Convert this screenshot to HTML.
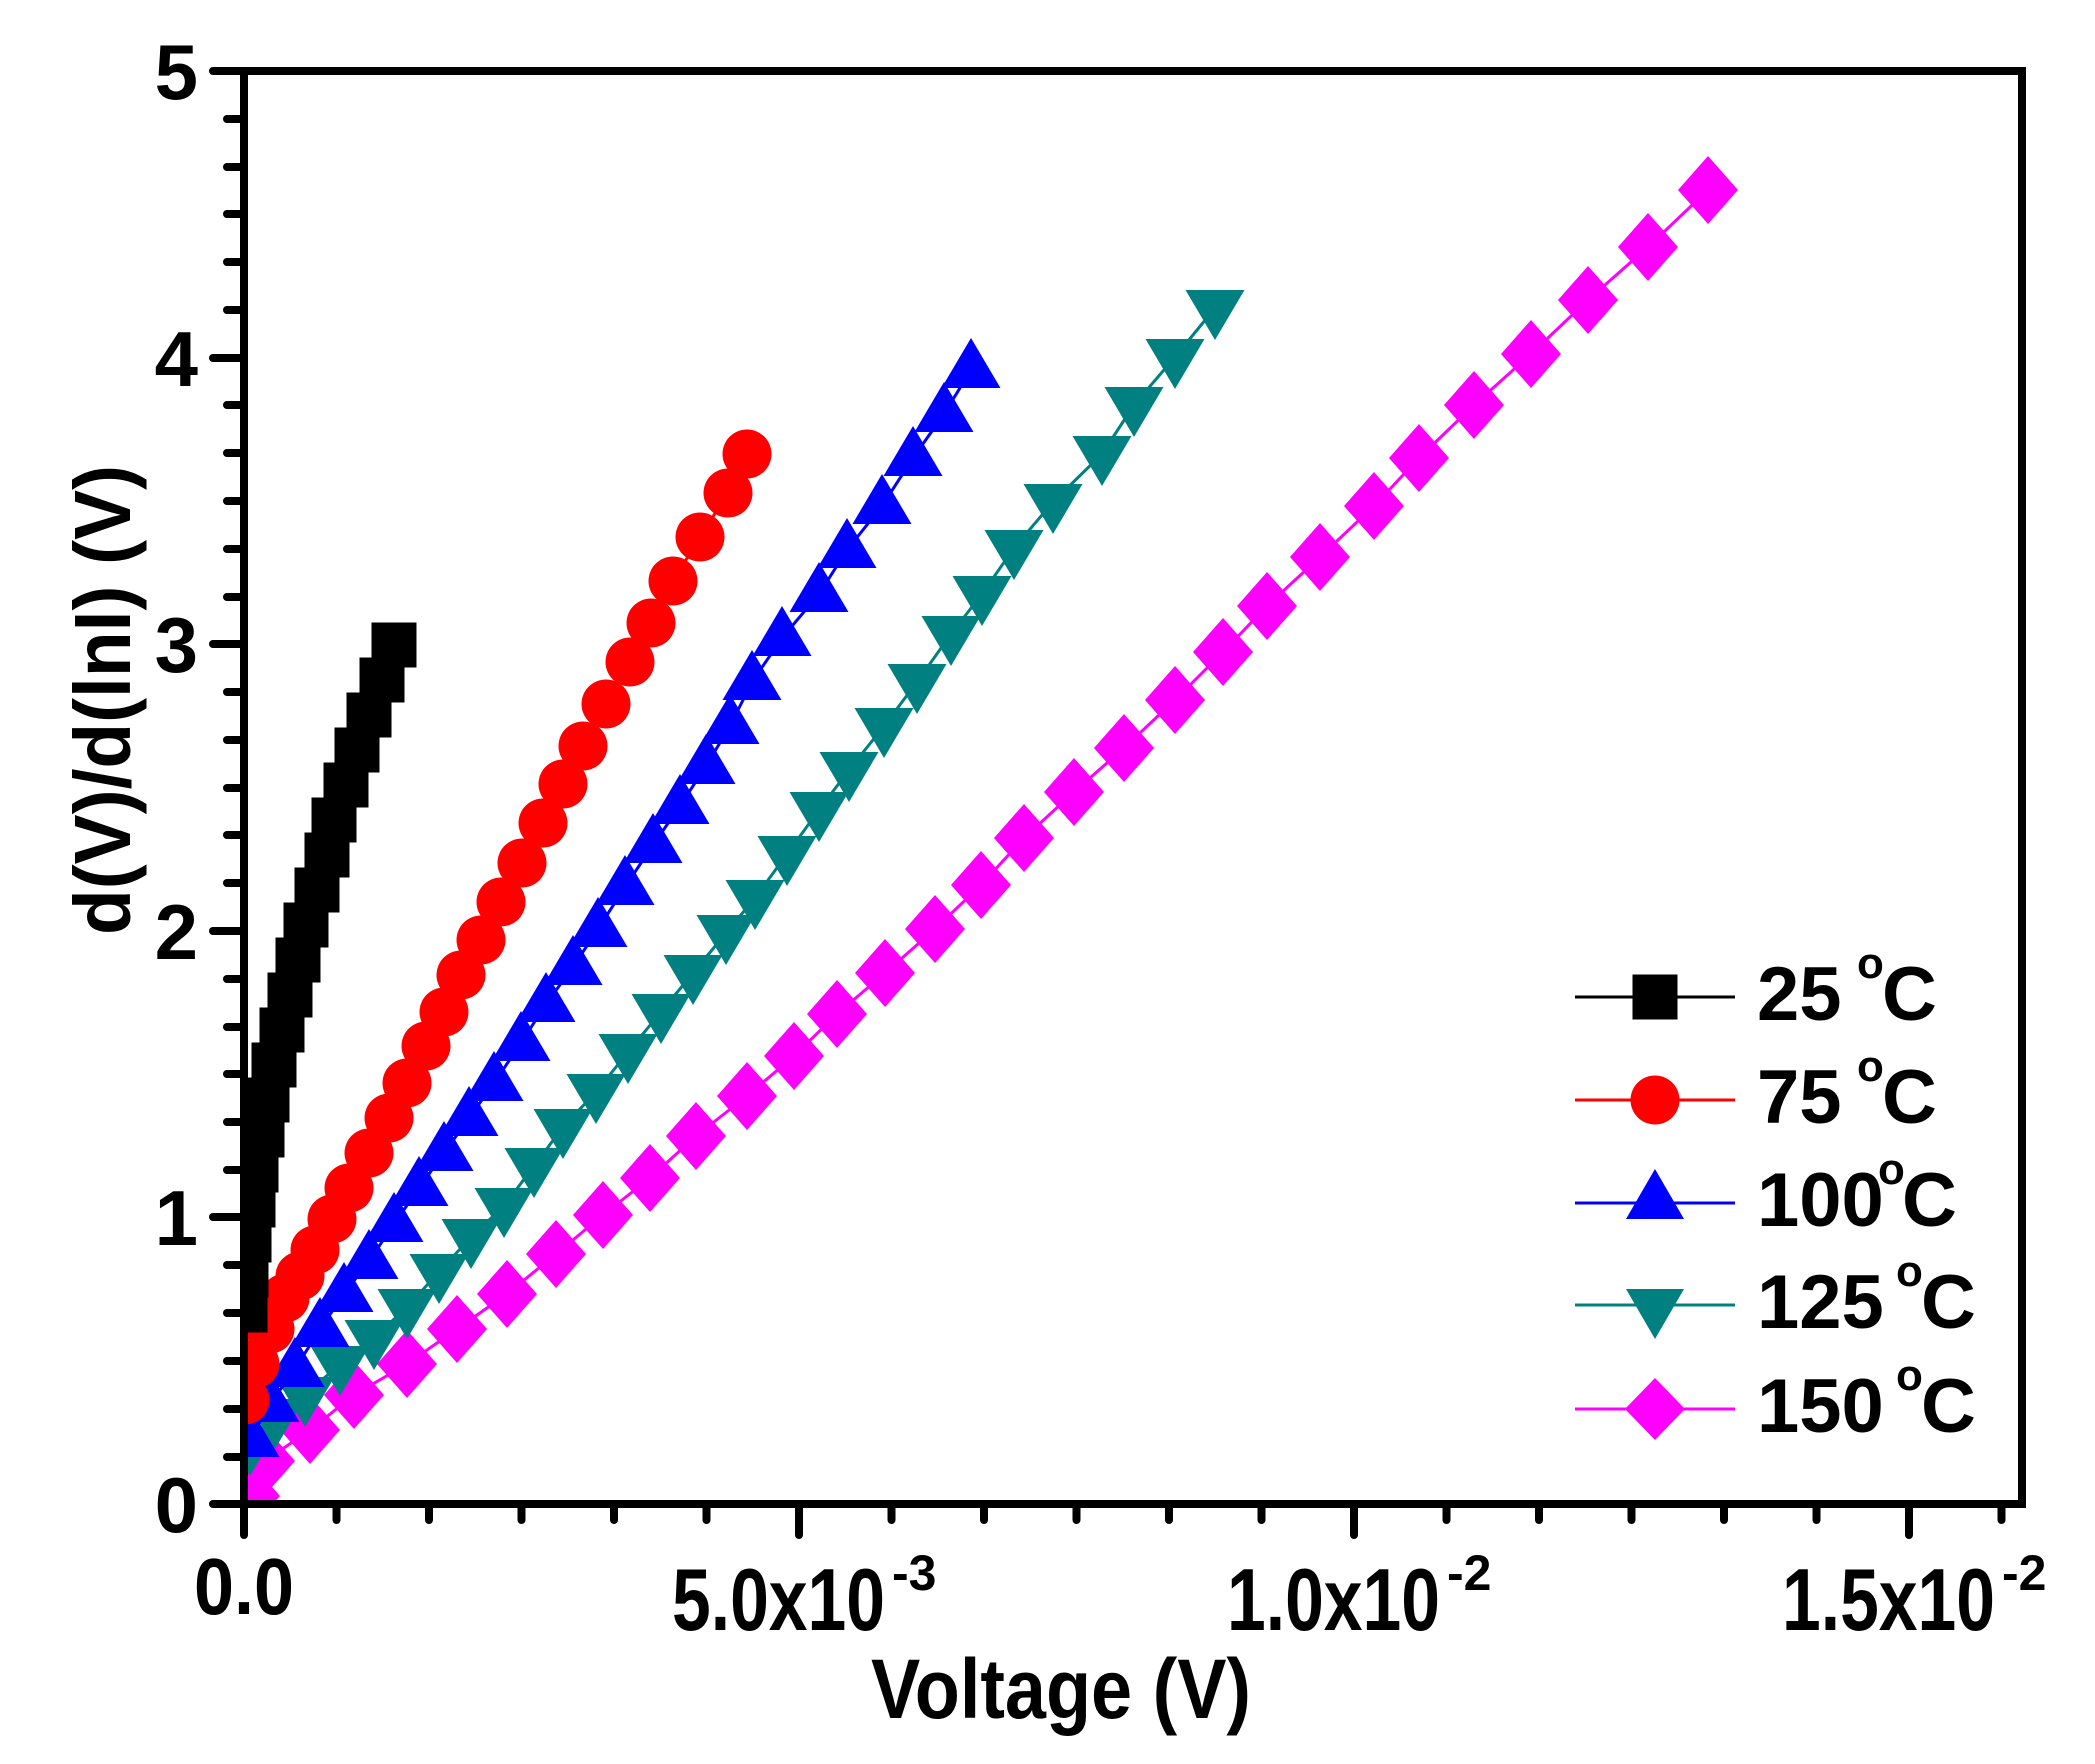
<!DOCTYPE html>
<html><head><meta charset="utf-8"><style>
html,body{margin:0;padding:0;background:#fff}
svg{display:block}
text{font-family:"Liberation Sans",Arial,sans-serif;font-weight:bold;fill:#000}
</style></head><body>
<svg width="2095" height="1764" viewBox="0 0 2095 1764" xmlns="http://www.w3.org/2000/svg">
<defs>
<clipPath id="pc"><rect x="244" y="71" width="1778" height="1433"/></clipPath>
<rect id="sq" x="-22.5" y="-22.5" width="45" height="45" fill="#000"/>
<circle id="ci" r="24.5" fill="#ff0000"/>
<polygon id="tu" points="0,-32 29.5,18 -29.5,18" fill="#0000ff"/>
<polygon id="td" points="0,32 29.5,-18 -29.5,-18" fill="#008080"/>
<polygon id="di" points="0,-34 30,0 0,34 -30,0" fill="#ff00ff"/>
</defs>

<g clip-path="url(#pc)">
<polyline fill="none" stroke="#ff00ff" stroke-width="3" points="244,1504 250,1496 265,1461 310,1430 354,1395 407,1364 457,1329 507,1294 556,1254 603,1215 650,1178 696,1136 747,1096 794,1056 837,1014 885,973 935,929 981,885 1024,838 1074,792 1124,748 1175,700 1223,652 1267,606 1320,557 1374,506 1419,458 1474,405 1531,354 1588,300 1648,247 1708,190 1720,180"/>
<g>
<use href="#di" x="250" y="1496"/><use href="#di" x="265" y="1461"/><use href="#di" x="310" y="1430"/><use href="#di" x="354" y="1395"/><use href="#di" x="407" y="1364"/><use href="#di" x="457" y="1329"/><use href="#di" x="507" y="1294"/><use href="#di" x="556" y="1254"/><use href="#di" x="603" y="1215"/><use href="#di" x="650" y="1178"/><use href="#di" x="696" y="1136"/><use href="#di" x="747" y="1096"/><use href="#di" x="794" y="1056"/><use href="#di" x="837" y="1014"/><use href="#di" x="885" y="973"/><use href="#di" x="935" y="929"/><use href="#di" x="981" y="885"/><use href="#di" x="1024" y="838"/><use href="#di" x="1074" y="792"/><use href="#di" x="1124" y="748"/><use href="#di" x="1175" y="700"/><use href="#di" x="1223" y="652"/><use href="#di" x="1267" y="606"/><use href="#di" x="1320" y="557"/><use href="#di" x="1374" y="506"/><use href="#di" x="1419" y="458"/><use href="#di" x="1474" y="405"/><use href="#di" x="1531" y="354"/><use href="#di" x="1588" y="300"/><use href="#di" x="1648" y="247"/><use href="#di" x="1708" y="190"/>
</g>
<polyline fill="none" stroke="#008080" stroke-width="3" points="244,1460 250,1444 275,1417 305,1395 340,1364 374,1338 407,1307 439,1272 471,1237 504,1206 534,1166 563,1127 596,1092 628,1052 661,1012 693,973 726,933 755,898 787,854 819,810 849,770 884,726 917,682 951,634 982,594 1014,548 1053,502 1102,454 1134,405 1175,357 1215,308"/>
<g>
<use href="#td" x="250" y="1444"/><use href="#td" x="275" y="1417"/><use href="#td" x="305" y="1395"/><use href="#td" x="340" y="1364"/><use href="#td" x="374" y="1338"/><use href="#td" x="407" y="1307"/><use href="#td" x="439" y="1272"/><use href="#td" x="471" y="1237"/><use href="#td" x="504" y="1206"/><use href="#td" x="534" y="1166"/><use href="#td" x="563" y="1127"/><use href="#td" x="596" y="1092"/><use href="#td" x="628" y="1052"/><use href="#td" x="661" y="1012"/><use href="#td" x="693" y="973"/><use href="#td" x="726" y="933"/><use href="#td" x="755" y="898"/><use href="#td" x="787" y="854"/><use href="#td" x="819" y="810"/><use href="#td" x="849" y="770"/><use href="#td" x="884" y="726"/><use href="#td" x="917" y="682"/><use href="#td" x="951" y="634"/><use href="#td" x="982" y="594"/><use href="#td" x="1014" y="548"/><use href="#td" x="1053" y="502"/><use href="#td" x="1102" y="454"/><use href="#td" x="1134" y="405"/><use href="#td" x="1175" y="357"/><use href="#td" x="1215" y="308"/>
</g>
<polyline fill="none" stroke="#0000ff" stroke-width="3" points="244,1455 250,1439 270,1404 295,1369 320,1329 344,1294 369,1261 394,1224 419,1188 444,1153 469,1118 494,1083 521,1043 546,1004 573,967 598,929 625,887 653,845 680,806 706,766 730,726 752,682 782,638 819,594 847,550 882,506 913,458 944,414 971,370"/>
<g>
<use href="#tu" x="250" y="1439"/><use href="#tu" x="270" y="1404"/><use href="#tu" x="295" y="1369"/><use href="#tu" x="320" y="1329"/><use href="#tu" x="344" y="1294"/><use href="#tu" x="369" y="1261"/><use href="#tu" x="394" y="1224"/><use href="#tu" x="419" y="1188"/><use href="#tu" x="444" y="1153"/><use href="#tu" x="469" y="1118"/><use href="#tu" x="494" y="1083"/><use href="#tu" x="521" y="1043"/><use href="#tu" x="546" y="1004"/><use href="#tu" x="573" y="967"/><use href="#tu" x="598" y="929"/><use href="#tu" x="625" y="887"/><use href="#tu" x="653" y="845"/><use href="#tu" x="680" y="806"/><use href="#tu" x="706" y="766"/><use href="#tu" x="730" y="726"/><use href="#tu" x="752" y="682"/><use href="#tu" x="782" y="638"/><use href="#tu" x="819" y="594"/><use href="#tu" x="847" y="550"/><use href="#tu" x="882" y="506"/><use href="#tu" x="913" y="458"/><use href="#tu" x="944" y="414"/><use href="#tu" x="971" y="370"/>
</g>
<polyline fill="none" stroke="#ff0000" stroke-width="3" points="244,1420 245,1400 255,1364 270,1329 285,1298 300,1276 315,1250 332,1219 349,1188 369,1153 389,1118 407,1083 426,1046 444,1012 461,975 481,940 501,902 522,863 543,823 563,784 583,746 606,704 630,662 651,623 673,581 700,537 728,493 747,454"/>
<g>
<use href="#ci" x="245" y="1400"/><use href="#ci" x="255" y="1364"/><use href="#ci" x="270" y="1329"/><use href="#ci" x="285" y="1298"/><use href="#ci" x="300" y="1276"/><use href="#ci" x="315" y="1250"/><use href="#ci" x="332" y="1219"/><use href="#ci" x="349" y="1188"/><use href="#ci" x="369" y="1153"/><use href="#ci" x="389" y="1118"/><use href="#ci" x="407" y="1083"/><use href="#ci" x="426" y="1046"/><use href="#ci" x="444" y="1012"/><use href="#ci" x="461" y="975"/><use href="#ci" x="481" y="940"/><use href="#ci" x="501" y="902"/><use href="#ci" x="522" y="863"/><use href="#ci" x="543" y="823"/><use href="#ci" x="563" y="784"/><use href="#ci" x="583" y="746"/><use href="#ci" x="606" y="704"/><use href="#ci" x="630" y="662"/><use href="#ci" x="651" y="623"/><use href="#ci" x="673" y="581"/><use href="#ci" x="700" y="537"/><use href="#ci" x="728" y="493"/><use href="#ci" x="747" y="454"/>
</g>
<g>
<use href="#sq" x="245" y="1310"/><use href="#sq" x="246" y="1275"/><use href="#sq" x="249" y="1240"/><use href="#sq" x="253" y="1205"/><use href="#sq" x="256" y="1170"/><use href="#sq" x="262" y="1135"/><use href="#sq" x="267" y="1100"/><use href="#sq" x="274" y="1065"/><use href="#sq" x="282" y="1030"/><use href="#sq" x="290" y="995"/><use href="#sq" x="298" y="960"/><use href="#sq" x="306" y="925"/><use href="#sq" x="317" y="890"/><use href="#sq" x="327" y="855"/><use href="#sq" x="334" y="820"/><use href="#sq" x="346" y="785"/><use href="#sq" x="357" y="750"/><use href="#sq" x="369" y="715"/><use href="#sq" x="382" y="680"/><use href="#sq" x="394" y="645"/>
</g>
</g>

<rect x="244" y="71" width="1778" height="1433" fill="none" stroke="#000" stroke-width="8"/>

<g stroke="#000" stroke-width="8" stroke-linecap="round">
<line x1="213" y1="71" x2="244" y2="71"/><line x1="227" y1="119" x2="244" y2="119"/><line x1="227" y1="167" x2="244" y2="167"/><line x1="227" y1="214" x2="244" y2="214"/><line x1="227" y1="262" x2="244" y2="262"/><line x1="227" y1="310" x2="244" y2="310"/>
<line x1="213" y1="358" x2="244" y2="358"/><line x1="227" y1="405" x2="244" y2="405"/><line x1="227" y1="453" x2="244" y2="453"/><line x1="227" y1="501" x2="244" y2="501"/><line x1="227" y1="549" x2="244" y2="549"/><line x1="227" y1="597" x2="244" y2="597"/>
<line x1="213" y1="644" x2="244" y2="644"/><line x1="227" y1="692" x2="244" y2="692"/><line x1="227" y1="740" x2="244" y2="740"/><line x1="227" y1="788" x2="244" y2="788"/><line x1="227" y1="835" x2="244" y2="835"/><line x1="227" y1="883" x2="244" y2="883"/>
<line x1="213" y1="931" x2="244" y2="931"/><line x1="227" y1="979" x2="244" y2="979"/><line x1="227" y1="1027" x2="244" y2="1027"/><line x1="227" y1="1074" x2="244" y2="1074"/><line x1="227" y1="1122" x2="244" y2="1122"/><line x1="227" y1="1170" x2="244" y2="1170"/>
<line x1="213" y1="1217" x2="244" y2="1217"/><line x1="227" y1="1265" x2="244" y2="1265"/><line x1="227" y1="1313" x2="244" y2="1313"/><line x1="227" y1="1361" x2="244" y2="1361"/><line x1="227" y1="1409" x2="244" y2="1409"/><line x1="227" y1="1457" x2="244" y2="1457"/>
<line x1="213" y1="1504" x2="244" y2="1504"/>
</g>
<g stroke="#000" stroke-width="8" stroke-linecap="round">
<line x1="244" y1="1504" x2="244" y2="1535"/><line x1="336.5" y1="1504" x2="336.5" y2="1520"/><line x1="429" y1="1504" x2="429" y2="1520"/><line x1="521.5" y1="1504" x2="521.5" y2="1520"/><line x1="614" y1="1504" x2="614" y2="1520"/><line x1="706.5" y1="1504" x2="706.5" y2="1520"/>
<line x1="799" y1="1504" x2="799" y2="1535"/><line x1="891.5" y1="1504" x2="891.5" y2="1520"/><line x1="984" y1="1504" x2="984" y2="1520"/><line x1="1076.5" y1="1504" x2="1076.5" y2="1520"/><line x1="1169" y1="1504" x2="1169" y2="1520"/><line x1="1261.5" y1="1504" x2="1261.5" y2="1520"/>
<line x1="1354" y1="1504" x2="1354" y2="1535"/><line x1="1446.5" y1="1504" x2="1446.5" y2="1520"/><line x1="1539" y1="1504" x2="1539" y2="1520"/><line x1="1631.5" y1="1504" x2="1631.5" y2="1520"/><line x1="1724" y1="1504" x2="1724" y2="1520"/><line x1="1816.5" y1="1504" x2="1816.5" y2="1520"/>
<line x1="1909" y1="1504" x2="1909" y2="1535"/><line x1="2001.5" y1="1504" x2="2001.5" y2="1520"/>
</g>

<g font-size="78" text-anchor="end">
<text x="198" y="99">5</text><text x="198" y="386">4</text><text x="198" y="672">3</text><text x="198" y="959">2</text><text x="198" y="1245">1</text><text x="198" y="1532">0</text>
</g>
<g font-size="88">
<text x="244" y="1614" text-anchor="middle" textLength="100" lengthAdjust="spacingAndGlyphs" font-size="80">0.0</text>
<text x="672" y="1630" textLength="213" lengthAdjust="spacingAndGlyphs">5.0x10</text>
<text x="892" y="1590" font-size="50">-3</text>
<text x="1227" y="1630" textLength="213" lengthAdjust="spacingAndGlyphs">1.0x10</text>
<text x="1447" y="1590" font-size="50">-2</text>
<text x="1782" y="1630" textLength="213" lengthAdjust="spacingAndGlyphs">1.5x10</text>
<text x="2002" y="1590" font-size="50">-2</text>
</g>
<text x="1061" y="1718" font-size="84" text-anchor="middle" textLength="380" lengthAdjust="spacingAndGlyphs">Voltage (V)</text>
<text transform="translate(130,700) rotate(-90)" font-size="80" text-anchor="middle" textLength="470" lengthAdjust="spacingAndGlyphs">d(V)/d(lnI) (V)</text>

<g stroke-width="3">
<line x1="1575" y1="997" x2="1735" y2="997" stroke="#000"/>
<line x1="1575" y1="1100" x2="1735" y2="1100" stroke="#ff0000"/>
<line x1="1575" y1="1203" x2="1735" y2="1203" stroke="#0000ff"/>
<line x1="1575" y1="1305" x2="1735" y2="1305" stroke="#008080"/>
<line x1="1575" y1="1409" x2="1735" y2="1409" stroke="#ff00ff"/>
</g>
<use href="#sq" x="1655" y="997"/>
<use href="#ci" x="1655" y="1100"/>
<polygon points="1655,1169 1684,1219 1626,1219" fill="#0000ff"/>
<polygon points="1655,1339 1684,1289 1626,1289" fill="#008080"/>
<polygon points="1655,1378 1685,1409 1655,1440 1625,1409" fill="#ff00ff"/>
<g font-size="76">
<text x="1757" y="1020">25</text><text x="1857" y="978" font-size="44">o</text><text x="1882" y="1020">C</text>
<text x="1757" y="1123">75</text><text x="1857" y="1081" font-size="44">o</text><text x="1882" y="1123">C</text>
<text x="1757" y="1226">100</text><text x="1878" y="1184" font-size="44">o</text><text x="1902" y="1226">C</text>
<text x="1757" y="1328">125</text><text x="1896" y="1286" font-size="44">o</text><text x="1921" y="1328">C</text>
<text x="1757" y="1432">150</text><text x="1896" y="1390" font-size="44">o</text><text x="1921" y="1432">C</text>
</g>
</svg>
</body></html>
